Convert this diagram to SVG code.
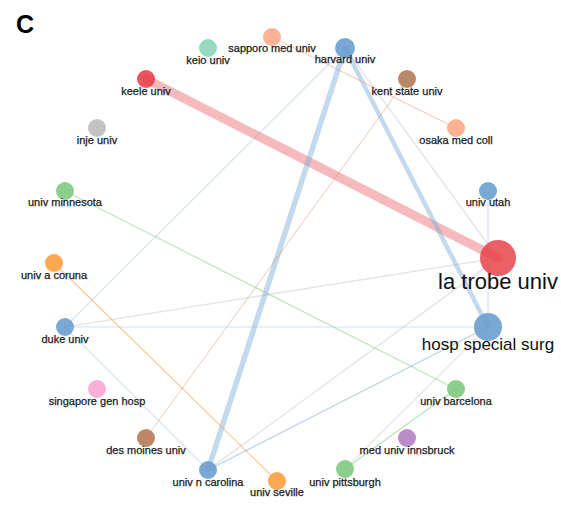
<svg xmlns="http://www.w3.org/2000/svg" width="561" height="513" viewBox="0 0 561 513">
<style>
.lbl{font-family:"Liberation Sans",Arial,sans-serif;font-size:11px;fill:#1a1a1a;text-anchor:middle;stroke:#1a1a1a;stroke-width:0.25px}
.big{font-family:"Liberation Sans",Arial,sans-serif;fill:#111;text-anchor:middle}
.e{fill:none;stroke-linecap:round}
.gray{stroke:#9a9a9a;stroke-opacity:0.24;stroke-width:1.6}
.lb{stroke:#7aaad8;stroke-opacity:0.32;stroke-width:1.2}
</style>
<rect width="561" height="513" fill="#fff"/>
<text x="16" y="33" font-family="Liberation Sans,Arial,sans-serif" font-weight="bold" font-size="25" fill="#000">C</text>
<g id="connectors">
<line class="e" x1="146" y1="79" x2="498" y2="258" stroke="#e8474f" stroke-opacity="0.38" stroke-width="9"/>
<line class="e" x1="345" y1="48" x2="208" y2="470" stroke="#7aaad8" stroke-opacity="0.45" stroke-width="5.5"/>
<line class="e" x1="345" y1="48" x2="488" y2="327" stroke="#7aaad8" stroke-opacity="0.45" stroke-width="4.5"/>
<line class="e lb" x1="345" y1="48" x2="65" y2="327"/>
<line class="e gray" x1="345" y1="48" x2="498" y2="258"/>
<line class="e" x1="272" y1="37" x2="456" y2="128" stroke="#f09070" stroke-opacity="0.45" stroke-width="1.2"/>
<line class="e" x1="407" y1="79" x2="146" y2="438" stroke="#d09070" stroke-opacity="0.35" stroke-width="1.2"/>
<line class="e lb" x1="488" y1="191" x2="488" y2="327"/>
<line class="e" x1="65" y1="191" x2="456" y2="389" stroke="#7fc97f" stroke-opacity="0.5" stroke-width="1.2"/>
<line class="e" x1="54" y1="263" x2="277" y2="481" stroke="#fda248" stroke-opacity="0.6" stroke-width="1.2"/>
<line class="e gray" x1="65" y1="327" x2="498" y2="258"/>
<line class="e lb" x1="65" y1="327" x2="488" y2="327"/>
<line class="e lb" x1="65" y1="327" x2="208" y2="470"/>
<line class="e" x1="208" y1="470" x2="488" y2="327" stroke="#7aaad8" stroke-opacity="0.5" stroke-width="1.3"/>
<line class="e gray" x1="208" y1="470" x2="498" y2="258"/>
<line class="e gray" x1="345" y1="469" x2="488" y2="327"/>
<line class="e" x1="345" y1="469" x2="456" y2="389" stroke="#7fc97f" stroke-opacity="0.55" stroke-width="1.2"/>
</g>
<g id="n-sapporo"><circle cx="272" cy="37" r="9" fill="#fcaa88" fill-opacity="0.9"/><text class="lbl" x="272" y="52">sapporo med univ</text></g>
<g id="n-keio"><circle cx="208" cy="48" r="9" fill="#8fd4b9" fill-opacity="0.9"/><text class="lbl" x="208" y="64">keio univ</text></g>
<g id="n-keele"><circle cx="146" cy="79" r="9" fill="#e8434c" fill-opacity="0.9"/><text class="lbl" x="146" y="95">keele univ</text></g>
<g id="n-inje"><circle cx="97" cy="128" r="9" fill="#bdbdbd" fill-opacity="0.9"/><text class="lbl" x="97" y="144">inje univ</text></g>
<g id="n-harvard"><circle cx="345" cy="48" r="10" fill="#6a9ecf" fill-opacity="0.9"/><text class="lbl" x="345" y="63">harvard univ</text></g>
<g id="n-kent"><circle cx="407" cy="79" r="9" fill="#b47a56" fill-opacity="0.9"/><text class="lbl" x="407" y="95">kent state univ</text></g>
<g id="n-osaka"><circle cx="456" cy="128" r="9" fill="#fcaa88" fill-opacity="0.9"/><text class="lbl" x="456" y="144">osaka med coll</text></g>
<g id="n-utah"><circle cx="488" cy="191" r="9" fill="#6a9ecf" fill-opacity="0.9"/><text class="lbl" x="488" y="206">univ utah</text></g>
<g id="n-latrobe"><circle cx="498" cy="258" r="18" fill="#e8434c" fill-opacity="0.85"/><text class="big" x="498" y="289" font-size="22">la trobe univ</text></g>
<g id="n-hosp"><circle cx="488" cy="327" r="14" fill="#6a9ecf" fill-opacity="0.9"/><text class="big" x="488" y="350" font-size="17">hosp special surg</text></g>
<g id="n-minnesota"><circle cx="65" cy="191" r="9" fill="#7fc97f" fill-opacity="0.9"/><text class="lbl" x="65" y="206">univ minnesota</text></g>
<g id="n-coruna"><circle cx="54" cy="263" r="9" fill="#fd9f3f" fill-opacity="0.9"/><text class="lbl" x="54" y="279">univ a coruna</text></g>
<g id="n-duke"><circle cx="65" cy="327" r="9" fill="#6a9ecf" fill-opacity="0.9"/><text class="lbl" x="65" y="343">duke univ</text></g>
<g id="n-singapore"><circle cx="97" cy="389" r="9" fill="#f7a6d4" fill-opacity="0.9"/><text class="lbl" x="97" y="405">singapore gen hosp</text></g>
<g id="n-desmoines"><circle cx="146" cy="438" r="9" fill="#b47a56" fill-opacity="0.9"/><text class="lbl" x="146" y="454">des moines univ</text></g>
<g id="n-ncarolina"><circle cx="208" cy="470" r="9" fill="#6a9ecf" fill-opacity="0.9"/><text class="lbl" x="208" y="486">univ n carolina</text></g>
<g id="n-seville"><circle cx="277" cy="481" r="9" fill="#fd9f3f" fill-opacity="0.9"/><text class="lbl" x="277" y="496">univ seville</text></g>
<g id="n-pittsburgh"><circle cx="345" cy="469" r="9" fill="#7fc97f" fill-opacity="0.9"/><text class="lbl" x="345" y="486">univ pittsburgh</text></g>
<g id="n-innsbruck"><circle cx="407" cy="438" r="9" fill="#b37fc3" fill-opacity="0.9"/><text class="lbl" x="407" y="454">med univ innsbruck</text></g>
<g id="n-barcelona"><circle cx="456" cy="389" r="9" fill="#7fc97f" fill-opacity="0.9"/><text class="lbl" x="456" y="405">univ barcelona</text></g>
</svg>
